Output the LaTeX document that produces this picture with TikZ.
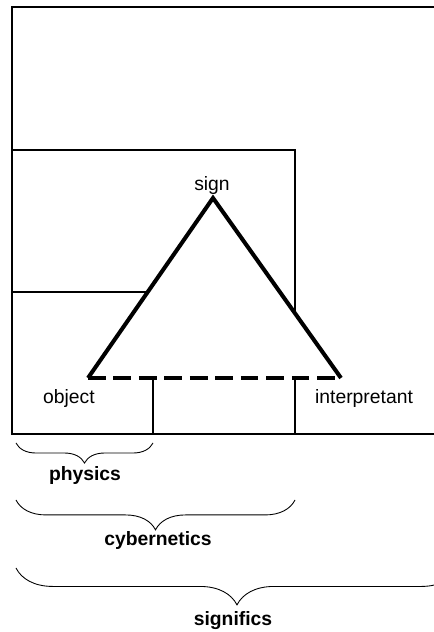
\documentclass[tikz,border=0pt]{standalone}
\usepackage{fontspec}
\setmainfont{Liberation Sans}
\usetikzlibrary{decorations.pathreplacing}
\tikzset{bracket/.style={black, line width=0.5pt, decorate, decoration={brace, mirror, amplitude=#1}}}

\begin{document}
\begin{tikzpicture}[scale=0.2]
			\tikzstyle{every node}+=[inner sep=0pt, anchor=base, font=\fontsize{11}{13}\selectfont]
			\tikzstyle{frame}=[black, line width=0.6pt]
			\tikzstyle{side}=[black, line width=2.3pt]
			\useasboundingbox (0,0) rectangle (43.4,-63.2);
			\clip (0,0) rectangle (43.4,-63.2);
			\draw [frame] (44,-0.7) -- (1.2,-0.7) -- (1.2,-43.4) -- (44,-43.4);
			\draw [frame] (1.2,-15) rectangle (29.5,-43.4);
			\draw [frame] (1.2,-29.2) rectangle (15.3,-43.4);
			\coordinate (sgn) at (21.3,-19.8);
			\coordinate (obj) at (8.8,-37.8);
			\coordinate (itp) at (34.1,-37.8);
			\fill [white] (sgn) -- (obj) -- (itp) -- cycle;
			\draw [side] (obj) -- (sgn) -- (itp);
			\draw [side, dash pattern=on 10pt off 4.5pt] (obj) -- (itp);
			\node (signlbl) at (21.2,-19.1) {sign};
			\node (objlbl) at (6.9,-40.3) {object};
			\node (itplbl) at (36.4,-40.3) {interpretant};
			\coordinate (phyA) at (1.6,-44.3);
			\coordinate (phyB) at (15.3,-44.3);
			\coordinate (cybA) at (1.6,-50.0);
			\coordinate (cybB) at (29.5,-50.0);
			\coordinate (sigA) at (1.6,-56.8);
			\coordinate (sigB) at (45.8,-56.8);
			\draw [bracket=11.4pt] (phyA) -- (phyB);
			\draw [bracket=17pt] (cybA) -- (cybB);
			\draw [bracket=21pt] (sigA) -- (sigB);
			\node [font=\fontsize{11}{13}\selectfont\bfseries] (phylbl) at (8.5,-48.0) {physics};
			\node [font=\fontsize{11}{13}\selectfont\bfseries] (cyblbl) at (15.8,-54.5) {cybernetics};
			\node [font=\fontsize{11}{13}\selectfont\bfseries] (siglbl) at (23.3,-62.5) {significs};
		\end{tikzpicture}
\end{document}
